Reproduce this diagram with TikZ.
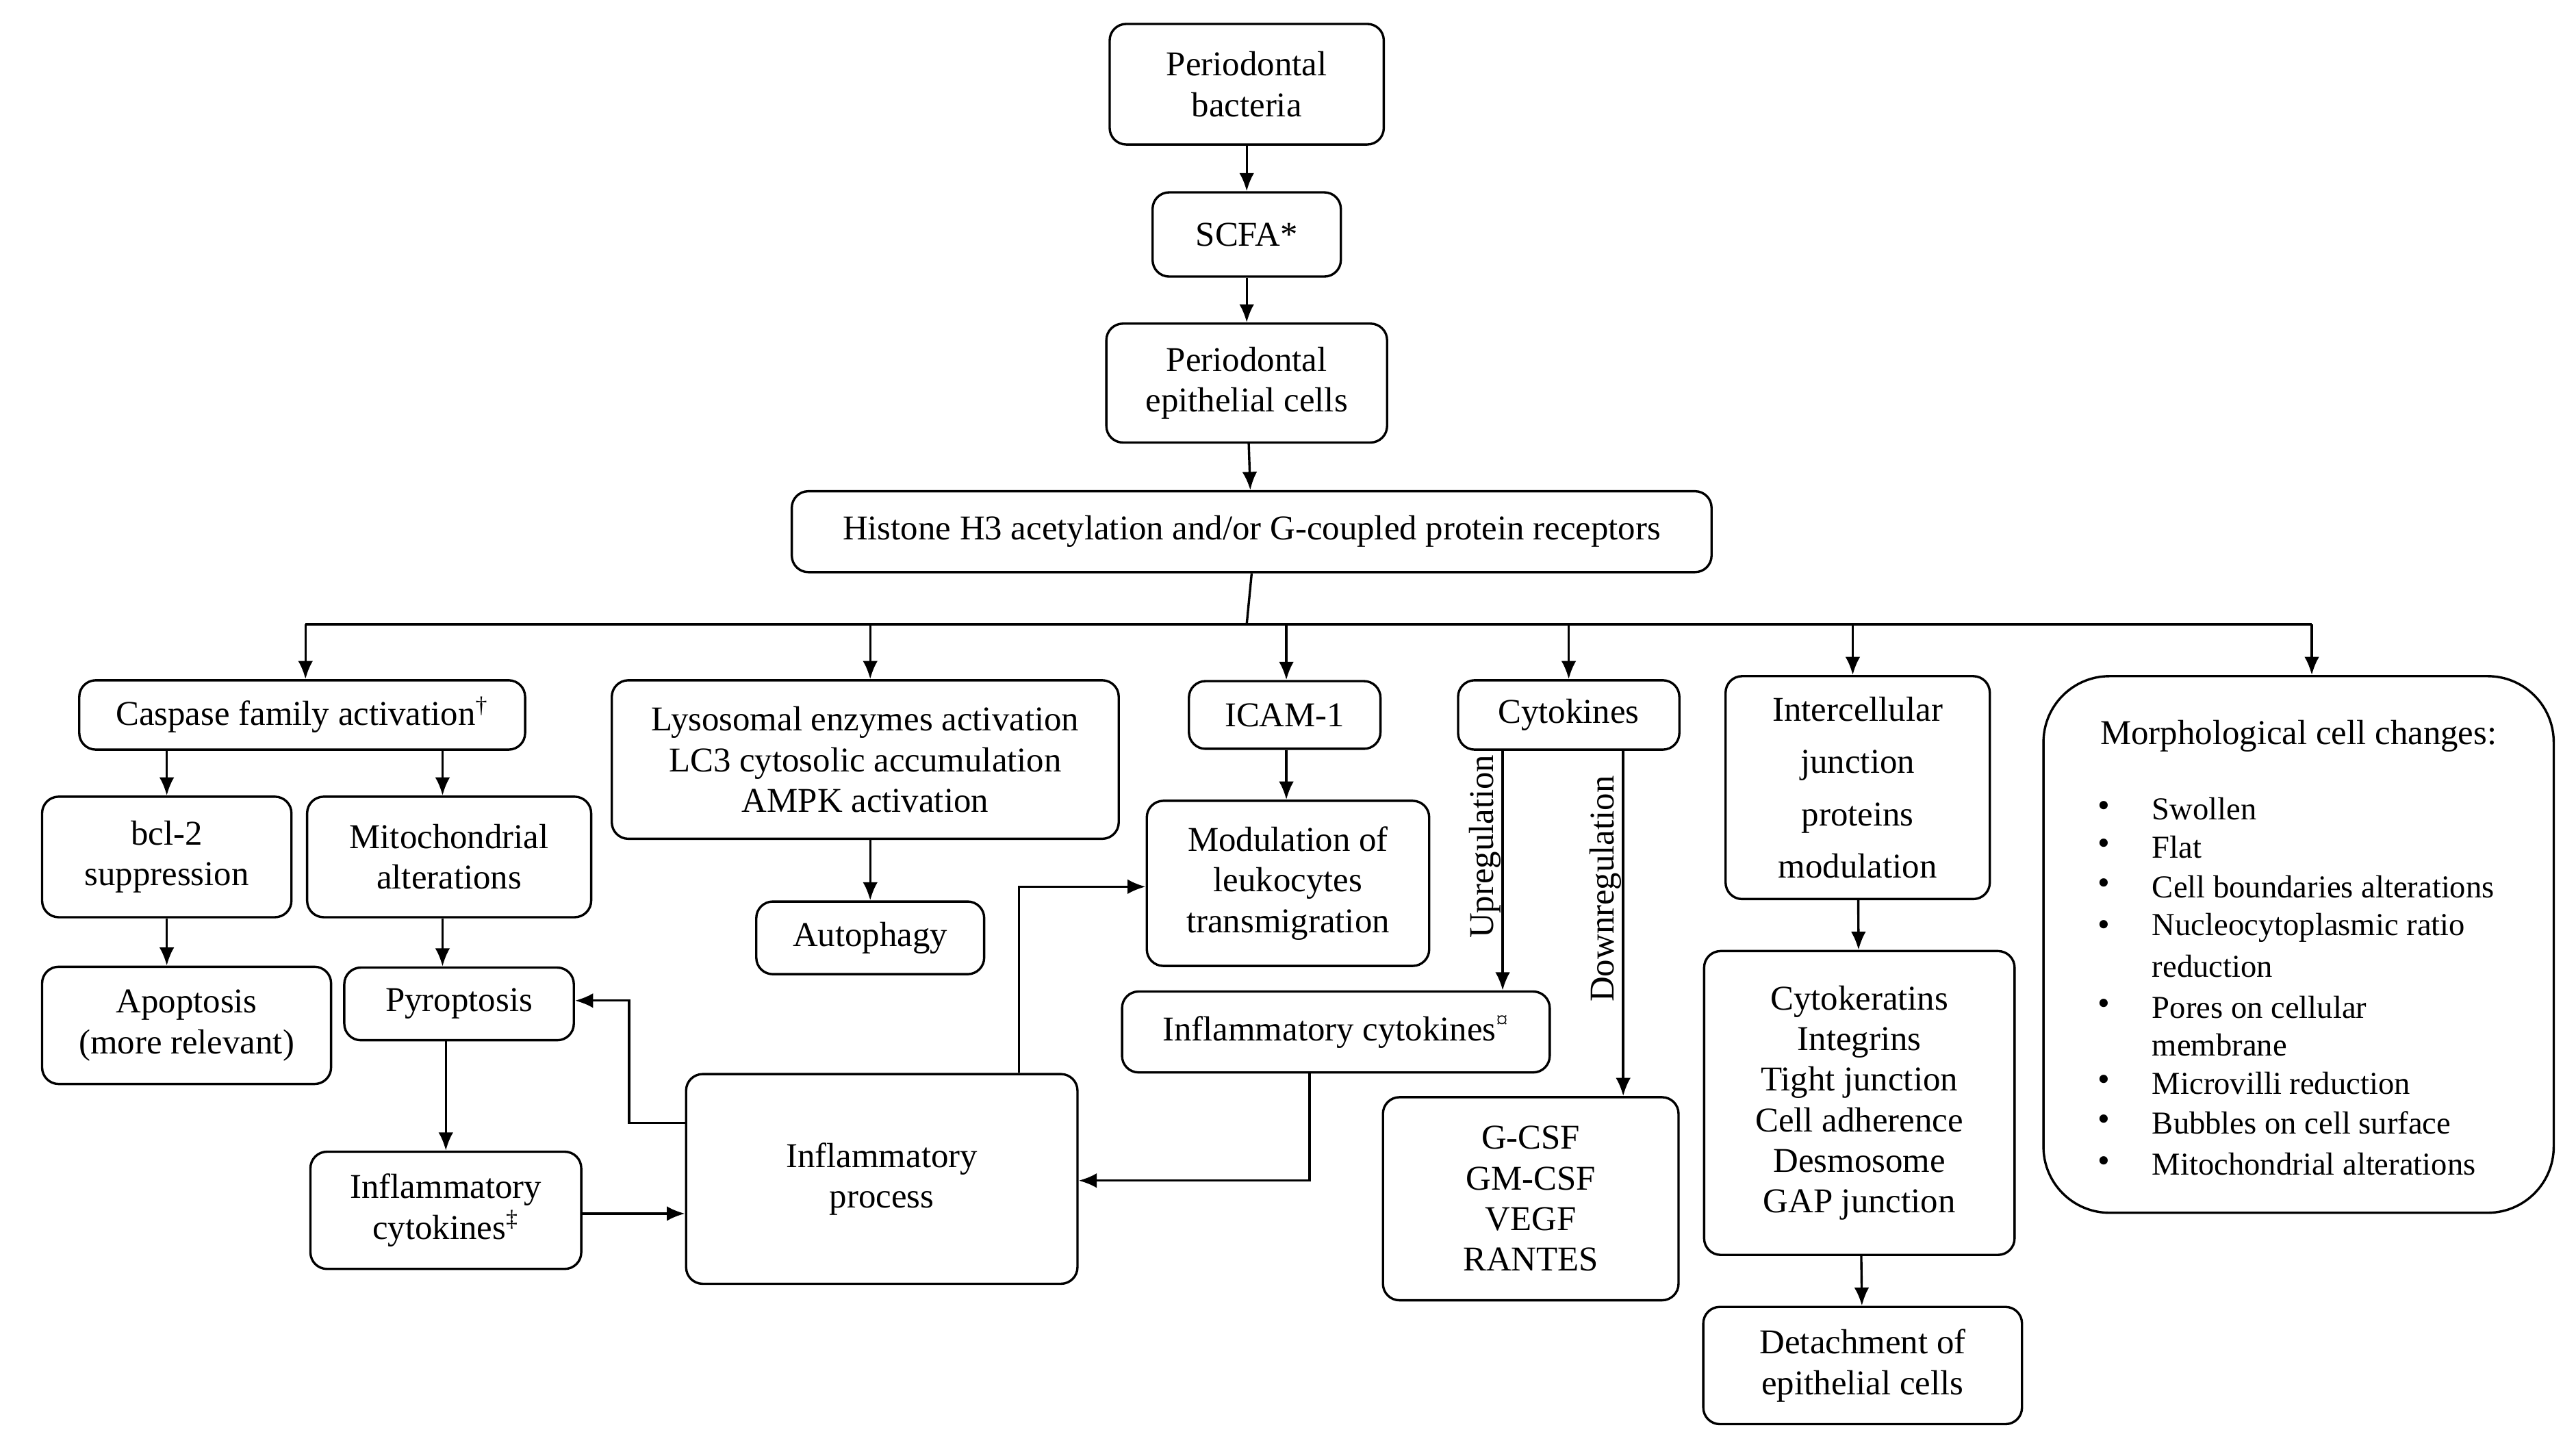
\documentclass[tikz,border=0pt]{standalone}
\usepackage{fontspec}
\setmainfont{Liberation Serif}
\usetikzlibrary{arrows.meta}
\begin{document}
\begin{tikzpicture}[x=0.02cm,y=-0.02cm,
  font=\fontsize{12pt}{14pt}\selectfont,
  box/.style={draw,line width=0.8pt,rounded corners=0.2cm,align=center,inner sep=1pt},
  bx/.style 2 args={box,minimum width=#1*0.02cm,minimum height=#2*0.02cm},
  ar/.style={line width=0.8pt,-{Latex[length=2.2mm,width=1.8mm]}},
  ln/.style={line width=0.8pt}]
\useasboundingbox (0,0) rectangle (1560,875);
\node[bx={166}{73}] (bact) at (755,51) {Periodontal\\bacteria};
\node[bx={114}{51}] (scfa) at (755,142) {SCFA*};
\node[bx={170}{72}] (pec) at (755,232) {Periodontal\\epithelial cells};
\node[bx={557}{49}] (hist) at (758,322) {Histone H3 acetylation and/or G-coupled protein receptors};
\node[bx={270}{42}] (casp) at (183,433) {Caspase family activation\textsuperscript{†}};
\node[bx={307}{96}] (lys) at (524,460) {Lysosomal enzymes activation\\LC3 cytosolic accumulation\\AMPK activation};
\node[bx={116}{41}] (icam) at (778,433) {ICAM-1};
\node[bx={134}{42}] (cyt) at (950,433) {Cytokines};
\node[bx={160}{135}] (icj) at (1125,477) {Intercellular\\[4pt]junction\\[4pt]proteins\\[4pt]modulation};
\node[draw,line width=0.8pt,rounded corners=0.8cm,minimum width=309*0.02cm,minimum height=325*0.02cm] (morph) at (1392,572) {};
\node[bx={151}{73}] (bcl) at (101,519) {bcl-2\\suppression};
\node[bx={172}{73}] (mito) at (272,519) {Mitochondrial\\alterations};
\node[bx={175}{71}] (apop) at (113,621) {Apoptosis\\(more relevant)};
\node[bx={139}{44}] (pyro) at (278,608) {Pyroptosis};
\node[bx={164}{71}] (infc2) at (270,733) {Inflammatory\\cytokines\textsuperscript{‡}};
\node[bx={237}{127}] (proc) at (534,714) {Inflammatory\\process};
\node[bx={138}{44}] (auto) at (527,568) {Autophagy};
\node[bx={171}{100}] (modl) at (780,535) {Modulation of\\leukocytes\\transmigration};
\node[bx={259}{49}] (infc1) at (809,625) {Inflammatory cytokines\textsuperscript{¤}};
\node[bx={179}{123}] (gcsf) at (927,726) {G-CSF\\GM-CSF\\VEGF\\RANTES};
\node[bx={188}{184}] (cytok) at (1126,668) {Cytokeratins\\Integrins\\Tight junction\\Cell adherence\\Desmosome\\GAP junction};
\node[bx={193}{71}] (det) at (1128,827) {Detachment of\\epithelial cells};
% morph text
\node (mt) at (1392,446) {Morphological cell changes:};
\foreach \y/\t [count=\i] in {490/Swollen,513/Flat,537/Cell boundaries alterations,562/Nucleocytoplasmic ratio,610/Pores on cellular,656/Microvilli reduction,680/Bubbles on cell surface,705/Mitochondrial alterations}{
  \node[anchor=west,inner sep=0pt,font=\fontsize{11pt}{13pt}\selectfont] (m\i) at (1303,\y) {\t};
  \node[inner sep=0pt] (b\i) at (1274,\y) {\textbullet};
}
\node[anchor=west,inner sep=0pt,font=\fontsize{11pt}{13pt}\selectfont] (m4b) at (1303,585) {reduction};
\node[anchor=west,inner sep=0pt,font=\fontsize{11pt}{13pt}\selectfont] (m5b) at (1303,633) {membrane};
% connectors
\draw[ar] (bact) -- (scfa);
\draw[ar] (scfa) -- (pec);
\draw[ar] (pec) -- (hist);
\coordinate (bus) at (755,378);
\draw[ln] (hist.south) -- (bus);
\draw[ln] (185,378) -- (1400,378);
\draw[ar] (185,378) -- (casp.north -| 185,0);
\draw[ar] (527,378) -- (lys.north -| 527,0);
\draw[ar] (779,378) -- (icam.north -| 779,0);
\draw[ar] (950,378) -- (cyt.north);
\draw[ar] (1122,378) -- (icj.north -| 1122,0);
\draw[ar] (1400,378) -- (morph.north -| 1400,0);
\draw[ar] (casp.south -| 101,0) -- (bcl.north -| 101,0);
\draw[ar] (casp.south -| 268,0) -- (mito.north -| 268,0);
\draw[ar] (bcl.south -| 101,0) -- (apop.north -| 101,0);
\draw[ar] (mito.south -| 268,0) -- (pyro.north -| 268,0);
\draw[ar] (pyro.south -| 270,0) -- (infc2.north -| 270,0);
\draw[ar] (lys.south -| 527,0) -- (auto.north -| 527,0);
\draw[ar] (icam.south -| 779,0) -- (modl.north -| 779,0);
\draw[ar] (cyt.south -| 910,0) -- node[pos=0.4,left=-3pt,rotate=90,anchor=south]{Upregulation} (infc1.north -| 910,0);
\draw[ar] (cyt.south -| 983,0) -- node[pos=0.4,left=-3pt,rotate=90,anchor=south]{Downregulation} (gcsf.north -| 983,0);
\draw[ar] (icj) -- (cytok);
\draw[ar] (cytok) -- (det);
\draw[ar] (proc.west |- 0,680) -- (381,680) -- (381,606) -- (pyro.east |- 0,606);
\draw[ar] (proc.north -| 617,0) -- (617,537) -- (modl.west |- 0,537);
\draw[ar] (infc1.south -| 793,0) -- (793,715) -- (proc.east |- 0,715);
\draw[ar] (infc2.east |- 0,735) -- (proc.west |- 0,735);
\end{tikzpicture}
\end{document}
